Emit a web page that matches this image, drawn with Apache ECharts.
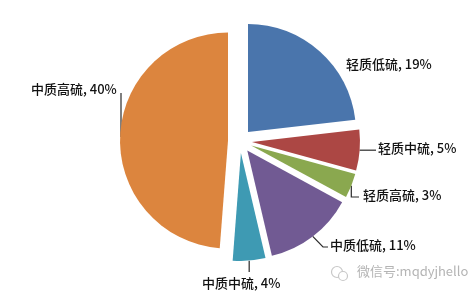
<!DOCTYPE html>
<html><head><meta charset="utf-8">
<script src="https://cdn.jsdelivr.net/npm/echarts@6/dist/echarts.min.js"></script>
<style>html,body{margin:0;padding:0;background:#fff}#c{width:468px;height:293px}</style>
</head><body><div id="c"></div>
<script>
const categories = ['轻质低硫','轻质中硫','轻质高硫','中质低硫','中质中硫','中质高硫'];
const values = [19, 5, 3, 11, 4, 40];
const colors = ['#4A75AC','#AC4744','#8AA84F','#715A93','#3E9AB3','#DC853E'];

// label placement (layout only): text anchor and label-line bend
const labelPlace = [
  { x: 346, y: 64,  line: 'none' },
  { x: 378, y: 148, line: 'h', end: 376 },
  { x: 363, y: 195, line: 'L', bendY: 197, end: 359 },
  { x: 330, y: 245, line: 'L', bendX: 323, bendY: 247, end: 328 },
  { x: 202, y: 283, line: 'v', end: 272 },
  { x: 31,  y: 89,  line: 'up', x0: 121, y0: 137, end: 93 }
];
const CENTER = [240, 141], RADIUS = 108, OFFSET = 12;

const chart = echarts.init(document.getElementById('c'));
const baseData = categories.map((n, i) => ({ name: n, value: values[i] }));
chart.setOption({
  animation: false,
  series: [{
    type: 'pie',
    center: CENTER,
    radius: [0, RADIUS],
    startAngle: 90,
    clockwise: true,
    selectedMode: 'multiple',
    selectedOffset: OFFSET,
    label: { show: false },
    labelLine: { show: false },
    data: baseData.map((d, i) => ({ ...d, selected: true, itemStyle: { color: colors[i] } }))
  }, {
    type: 'pie',
    silent: true,
    center: CENTER,
    radius: [0, RADIUS],
    startAngle: 90,
    clockwise: true,
    avoidLabelOverlap: false,
    itemStyle: { color: 'rgba(0,0,0,0)' },
    data: baseData,
    label: {
      formatter: p => p.name + ', ' + p.value + '%',
      color: '#111',
      fontSize: 13,
      fontWeight: 500,
      fontFamily: '"Noto Sans CJK SC", sans-serif'
    },
    labelLine: { length: 8, length2: 8, lineStyle: { color: '#2a2a2a', width: 1.2 } },
    labelLayout: function (params) {
      const c = labelPlace[params.dataIndex];
      const lp = params.labelLinePoints;
      let s = [c.x, c.y];
      if (lp) {
        const dx = lp[1][0] - lp[0][0], dy = lp[1][1] - lp[0][1];
        const len = Math.hypot(dx, dy) || 1;
        s = [lp[0][0] + OFFSET * dx / len, lp[0][1] + OFFSET * dy / len];
      }
      let pts;
      if (c.line === 'none') pts = [[c.x, c.y], [c.x, c.y], [c.x, c.y]];
      else if (c.line === 'h') pts = [s, [c.end, s[1]], [c.end, s[1]]];
      else if (c.line === 'L') pts = [s, [c.bendX != null ? c.bendX : s[0], c.bendY], [c.end, c.bendY]];
      else if (c.line === 'v') pts = [s, [s[0], c.end], [s[0], c.end]];
      else pts = [[c.x0, c.y0], [c.x0, c.end], [c.x0, c.end]];
      return { x: c.x, y: c.y, align: 'left', verticalAlign: 'middle', labelLinePoints: pts };
    }
  }],
  graphic: [
    { type: 'circle', shape: { cx: 337, cy: 272, r: 5.5 }, style: { fill: 'none', stroke: '#c8c8c8', lineWidth: 1.2 } },
    { type: 'circle', shape: { cx: 343, cy: 276, r: 4.5 }, style: { fill: '#fff', stroke: '#c8c8c8', lineWidth: 1.2 } },
    {
      type: 'text', left: 357, top: 265,
      style: { text: '微信号:mqdyjhello', fill: '#b4b4b4', font: '13px "Noto Sans CJK SC", sans-serif' }
    }
  ]
});
</script></body></html>
